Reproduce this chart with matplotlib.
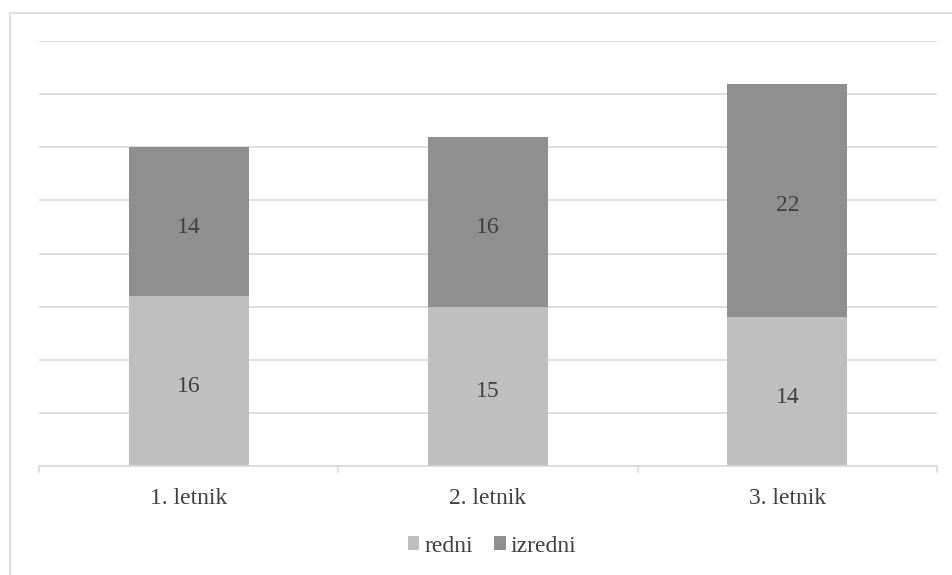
import matplotlib.pyplot as plt
from matplotlib.lines import Line2D

plt.rcParams['font.family'] = ['Liberation Serif', 'DejaVu Serif']

letniki = ['1. letnik', '2. letnik', '3. letnik']
redni = [16, 15, 14]
izredni = [14, 16, 22]

c_redni = '#bfbfbf'
c_izredni = '#8f8f8f'
c_text = '#404040'
c_grid = '#d9d9d9'

W, H = 952, 575
fig = plt.figure(figsize=(W / 100, H / 100), dpi=100)
ax = fig.add_axes([39 / W, (H - 466) / H, 898 / W, (466 - 41) / H])

# zunanji okvir (zgornji in levi rob)
fig.lines.append(Line2D([9.5 / W, 9.5 / W, 1.0], [0, (H - 12.5) / H, (H - 12.5) / H],
                        transform=fig.transFigure, color=c_grid, linewidth=1.2))

x = range(len(letniki))
b1 = ax.bar(x, redni, width=0.4, color=c_redni, zorder=2, label='redni')
b2 = ax.bar(x, izredni, width=0.4, bottom=redni, color=c_izredni, zorder=2, label='izredni')

for i in x:
    ax.annotate(str(redni[i]), (i, redni[i] / 2), xytext=(0, -4), textcoords='offset points',
                ha='center', va='center', fontsize=17, color=c_text, zorder=3)
    ax.annotate(str(izredni[i]), (i, redni[i] + izredni[i] / 2), xytext=(0, -4), textcoords='offset points',
                ha='center', va='center', fontsize=17, color=c_text, zorder=3)

ax.set_xlim(-0.5, 2.5)
ax.set_ylim(0, 40)
ax.set_yticks(range(0, 41, 5))
ax.yaxis.grid(True, color=c_grid, linewidth=1.2, zorder=0)
ax.tick_params(axis='y', left=False, labelleft=False)
ax.set_xticks(list(x))
ax.set_xticklabels(letniki, fontsize=17, color=c_text)
ax.tick_params(axis='x', length=0, pad=16)
# ločilne oznake med kategorijami
for xb in [-0.5, 0.5, 1.5, 2.5]:
    ax.plot([xb, xb], [0, -0.6], color=c_grid, linewidth=1.2, clip_on=False)
for s in ['top', 'right', 'left']:
    ax.spines[s].set_visible(False)
ax.spines['bottom'].set_color(c_grid)
ax.spines['bottom'].set_linewidth(1.2)

fig.legend(handles=[b1, b2], labels=['redni', 'izredni'], loc='center',
           bbox_to_anchor=(492 / W, (H - 546) / H), ncol=2, frameon=False,
           fontsize=17, labelcolor=c_text, handlelength=0.5, handleheight=0.5,
           handletextpad=0.2, columnspacing=0.9)

fig.savefig('out.png', dpi=100)
